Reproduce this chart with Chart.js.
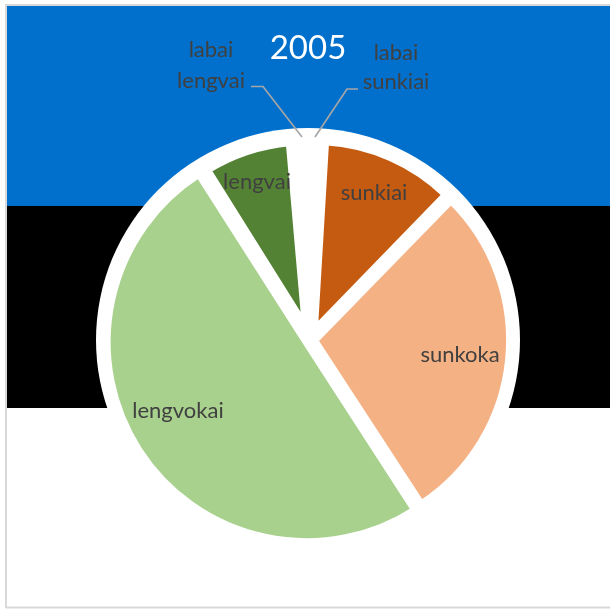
<!DOCTYPE html>
<html>
<head>
<meta charset="utf-8">
<style>
  html, body { margin: 0; padding: 0; background: #fff; }
  #wrap { width: 610px; height: 609px; }
</style>
<script src="https://cdn.jsdelivr.net/npm/chart.js@4"></script>
</head>
<body>
<div id="wrap"><canvas id="myChart" width="610" height="609"></canvas></div>
<script>
const categories = ["labai sunkiai", "sunkiai", "sunkoka", "lengvokai", "lengvai", "labai lengvai"];
const shares = [0.9, 11.4, 28.5, 50.2, 7.7, 1.3];
const chartTitle = "2005";

// slice styling, kept apart from the values
const sliceColors = ["#ffffff", "#c55a11", "#f4b183", "#a9d18e", "#548235", "#ffffff"];
const sliceOffsets = [16, 38, 16, 16, 50, 16];
const radiusTrim = [0, 9, 0, 0, 16, 0];

// text placement, picked by eye against the flag bands
const labelSpots = [
  { lines: ["labai", "sunkiai"], x: 396, y: [53, 82] },
  { lines: ["sunkiai"], x: 374, y: [193] },
  { lines: ["sunkoka"], x: 460, y: [355] },
  { lines: ["lengvokai"], x: 178, y: [411] },
  { lines: ["lengvai"], x: 257, y: [182] },
  { lines: ["labai", "lengvai"], x: 211, y: [50, 81] }
];

const flagAndDisc = {
  id: "flagAndDisc",
  beforeDatasetsDraw(chart) {
    const c = chart.ctx;
    const meta = chart.getDatasetMeta(0);
    // the two small coloured slices are shorter than the big ones
    meta.data.forEach((arc, i) => {
      arc.outerRadius = meta.controller.outerRadius - radiusTrim[i];
    });
    c.save();
    c.fillStyle = "#ffffff";
    c.fillRect(0, 0, 610, 609);
    c.fillStyle = "#0070cc";
    c.fillRect(6, 6, 604, 200);
    c.fillStyle = "#000000";
    c.fillRect(6, 206, 604, 202);
    c.strokeStyle = "#d9d9d9";
    c.lineWidth = 2;
    c.beginPath();
    c.moveTo(6, 608);
    c.lineTo(6, 5);
    c.lineTo(610, 5);
    c.moveTo(6, 607.5);
    c.lineTo(610, 607.5);
    c.stroke();
    c.fillStyle = "#ffffff";
    c.beginPath();
    c.arc(308, 340, 212, 0, Math.PI * 2);
    c.fill();
    c.restore();
  }
};

const sliceLabels = {
  id: "sliceLabels",
  afterDatasetsDraw(chart) {
    const c = chart.ctx;
    c.save();
    c.strokeStyle = "#a6a6a6";
    c.lineWidth = 1.7;
    c.beginPath();
    c.moveTo(251, 86.5); c.lineTo(263, 86.5); c.lineTo(302, 137);
    c.moveTo(358, 89); c.lineTo(347, 89); c.lineTo(315, 137);
    c.stroke();
    c.textAlign = "center";
    c.textBaseline = "middle";
    c.fillStyle = "#404040";
    c.font = '22px Lato';
    labelSpots.forEach((s) => {
      s.lines.forEach((t, i) => c.fillText(t, s.x, s.y[i]));
    });
    c.fillStyle = "#ffffff";
    c.font = '33px Lato';
    c.fillText(chartTitle, 308, 48);
    c.restore();
  }
};

new Chart(document.getElementById("myChart"), {
  type: "pie",
  data: {
    labels: categories,
    datasets: [{
      data: shares,
      backgroundColor: sliceColors,
      borderColor: "#ffffff",
      borderWidth: 8,
      offset: sliceOffsets
    }]
  },
  options: {
    responsive: false,
    animation: false,
    radius: 196,
    layout: { padding: { left: 10, top: 71, right: 0, bottom: 0 } },
    plugins: { legend: { display: false }, tooltip: { enabled: false }, title: { display: false } }
  },
  plugins: [flagAndDisc, sliceLabels]
});
</script>
</body>
</html>
